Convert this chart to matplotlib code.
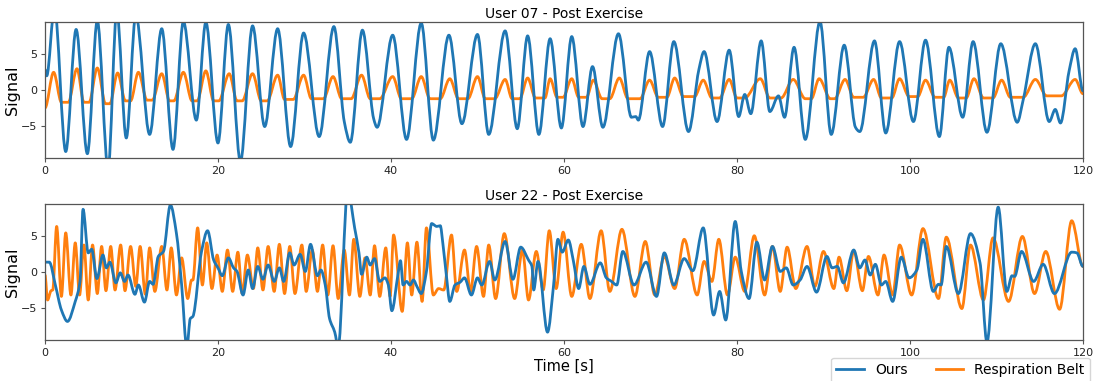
import numpy as np
import matplotlib
matplotlib.use("Agg")
import matplotlib.pyplot as plt
from matplotlib.path import Path
from matplotlib.patches import PathPatch
from matplotlib.lines import Line2D

# User 07 - turning points of each trace (time [s], signal)
u07_ours_t = [0, 0.2, 1.1, 2.4, 3.6, 4.9, 6.05, 7.3, 8.3, 9.4, 10.5, 12.1, 13.5, 14.8, 16.0, 17.5,
              18.6, 20.0, 21.2, 22.6, 24.0, 25.4, 26.9, 28.4, 29.9, 31.7, 33.4, 34.6, 35.3, 36.7,
              38.0, 38.4, 40.2, 41.8, 43.5, 44.9, 46.7, 48.2, 50.0, 51.3, 53.2, 54.6, 55.8, 57.1,
              58.4, 59.7, 60.9, 62.2, 63.3, 64.5, 66.3, 67.8, 68.3, 68.6, 69.9, 71.4, 72.7, 74.4,
              75.6, 76.2, 77.7, 79.1, 80.2, 80.9, 81.6, 82.8, 83.8, 84.8, 85.5, 86.6, 87.9, 89.6,
              90.9, 92.4, 93.7, 94.2, 95.9, 97.2, 98.8, 100.4, 101.8, 103.4, 104.5, 106.1, 107.3,
              108.9, 110.5, 112.4, 113.1, 114.5, 116.1, 116.8, 117.4, 118.4, 119.1, 120.0]
u07_ours = [2.9, 2.0, 11.5, -8.6, 8.5, -8.9, 9.7, -11.0, 11.0, -6.7, 10.5, -6.2, 8.6, -8.3, 9.6, -4.2,
            9.5, -7.4, 9.2, -10.0, 9.0, -5.1, 8.6, -7.9, 8.0, -6.5, 8.9, -4.4, -7.3, 8.4,
            -4.0, -5.2, 7.7, -6.9, 9.4, -7.0, 7.7, -4.7, 7.8, -6.2, 8.3, -5.4, 7.6, -6.2,
            7.2, -5.3, 7.5, -5.1, 3.3, -5.2, 7.9, -3.8, -3.7, -4.2, 5.4, -5.1, 6.8, -5.8,
            2.9, 5.4, -4.4, 5.6, -3.7, -0.6, -3.3, 6.9, -3.0, -0.8, -3.8, 6.0, -6.9, 9.6,
            -6.2, 6.3, -5.2, -5.8, 6.9, -6.0, 6.8, -4.4, 7.0, -6.5, 6.0, -3.8, 6.8,
            -5.9, 6.5, -4.5, -1.3, 6.5, -4.4, -2.7, -4.6, 2.7, 5.8, -0.1]

u07_belt_t = [0, 1.0, 1.9, 2.7, 3.7, 4.5, 5.1, 6.05, 7.0, 7.5, 8.4, 9.3, 9.9, 10.8, 11.8, 12.4,
              13.5, 14.4, 14.9, 16.0, 17.0, 17.6, 18.6, 19.5, 20.1, 21.3, 22.2, 22.8, 24.0, 25.0,
              25.7, 26.9, 27.7, 28.7, 29.9, 30.8, 32.2, 33.3, 34.3, 35.4, 36.6, 37.6, 38.7, 40.2,
              41.2, 42.4, 43.5, 44.5, 45.7, 46.8, 47.8, 48.9, 50.0, 50.9, 52.0, 53.2, 54.0, 54.9,
              55.8, 56.7, 57.8, 58.4, 59.2, 59.9, 60.9, 61.7, 62.6, 63.4, 64.4, 65.3, 66.4, 67.4,
              68.8, 69.9, 70.9, 71.9, 72.8, 73.8, 75.1, 76.1, 77.1, 78.0, 79.1, 80.0, 80.9, 82.7,
              83.8, 85.1, 86.5, 87.9, 88.6, 89.5, 90.8, 91.3, 92.5, 93.5, 94.6, 95.8, 96.7, 97.9,
              98.8, 99.9, 100.9, 101.8, 102.9, 103.9, 104.6, 105.6, 106.5, 107.4, 108.5, 109.6,
              110.6, 111.6, 113.1, 114.5, 115.8, 117.5, 119.1, 120.0]
u07_belt = [-2.5, 2.5, -1.7, -1.7, 3.0, -1.7, -1.7, 3.1, -1.9, -1.9, 2.4, -1.5, -1.5, 2.5, -1.4, -1.4,
            2.3, -1.5, -1.5, 2.5, -1.5, -1.5, 2.7, -1.5, -1.5, 2.3, -1.5, -1.5, 2.3, -1.5,
            -1.5, 2.1, -1.3, -1.3, 2.1, -1.2, -1.2, 1.9, -1.2, -1.2, 2.1, -1.2, -1.2, 1.9,
            -1.2, -1.2, 1.9, -1.2, -1.2, 1.6, -1.2, -1.2, 1.9, -1.2, -1.2, 1.5, -1.2, -1.2,
            1.7, -1.1, -1.1, 1.6, -1.0, -1.0, 1.6, -1.0, -1.0, 1.4, -1.2, -1.2, 1.7, -1.2,
            -1.2, 1.4, -1.0, -1.0, 1.7, -0.9, -0.9, 1.4, -1.1, -1.1, 1.5, -1.1, -1.1, 1.6,
            -1.1, -1.1, 1.5, -1.2, -1.2, 1.6, -1.2, -1.2, 1.5, -1.0, -1.0, 1.5, -1.1, -1.1,
            1.6, -0.9, -0.9, 1.4, -1.0, -1.0, 1.4, -1.1, -1.1, 1.6, -1.1, -1.1,
            1.4, -1.0, -1.0, 1.5, -0.8, -0.8, 1.5, -0.5]

# User 22 - turning points of each trace (time [s], signal)
u22_ours_t = [0, 0.5, 1.2, 1.9, 2.6, 3.5, 4.05, 4.4, 5.0, 5.4, 6.0, 6.7, 7.1, 7.5, 8.2, 8.7, 9.2,
              9.6, 10.4, 10.8, 11.5, 12.1, 12.5, 13.1, 13.7, 14.5, 15.2, 15.8, 16.4, 16.8, 17.1,
              18.1, 18.8, 19.5, 20.0, 20.5, 21.2, 21.8, 22.2, 22.9, 23.5, 24.0, 24.6, 25.2, 25.8,
              26.5, 27.1, 27.6, 28.3, 28.8, 29.5, 30.1, 30.7, 31.5, 31.9, 32.4, 32.9, 33.5, 33.9,
              35.0, 35.8, 36.3, 36.6, 37.2, 37.6, 38.1, 38.7, 39.3, 39.7, 40.1, 40.8, 41.1, 41.4,
              41.8, 42.2, 42.6, 43.0, 43.5, 44.1, 44.7, 45.3, 45.7, 46.0, 46.4, 46.8, 47.4, 48.0,
              48.5, 49.3, 50.0, 50.5, 51.4, 52.0, 53.2, 54.1, 55.0, 55.9, 56.3, 56.5, 57.0, 58.1,
              58.8, 59.3, 59.8, 60.5, 61.1, 61.7, 62.3, 63.0, 64.2, 64.9, 65.5, 66.1, 66.8, 68.1,
              69.5, 70.7, 71.6, 72.7, 73.9, 74.9, 76.1, 77.3, 78.0, 78.7, 79.8, 80.5, 81.4, 82.3,
              83.2, 84.1, 85.0, 85.7, 86.5, 87.3, 88.1, 89.2, 90.4, 91.0, 91.6, 92.3, 93.5, 94.2,
              94.8, 95.4, 96.0, 96.7, 97.2, 98.0, 99.0, 99.9, 100.8, 101.5, 102.7, 103.3, 103.6,
              104.2, 105.6, 107.0, 108.1, 108.9, 110.2, 111.2, 111.8, 112.1, 112.9, 114.3, 115.4,
              116.7, 118.7, 119.3, 120.0]
u22_ours = [1.4, 1.4, -1.8, -5.3, -6.9, -4.1, -1.3, 8.8, 2.7, 3.2, -0.9, 2.4, 0.6, 1.4, -1.5, -0.1, -1.3,
            -0.4, -3.1, -1.8, -4.2, -1.3, -1.7, 2.2, 2.9, 9.4, 5.4, -1.8, -10.5, -6.5, -6.2,
            2.9, 5.8, 1.7, 0.6, -0.5, 2.0, 0.6, 0.1, -3.2, 0.3, -2.3, 0.8, -1.0, 1.0,
            -1.3, 0.6, -1.3, 2.7, 1.0, 2.5, 0.1, 3.9, -0.5, 0.3, -1.8, -6.5, -8.4, -10.5,
            11.5, 6.2, 2.7, -0.3, 2.1, 1.0, 1.9, -1.3, -0.8, -1.8, -5.4, -0.4, 1.6, -1.8,
            -1.3, -1.8, -1.1, -2.0, -3.0, 0.1, 6.8, 6.4, 6.5, 4.0, -0.4, -4.1, -1.8, -1.4,
            -0.8, -3.2, -0.8, -1.8, 1.5, -1.1, 4.3, -1.0, 3.5, 1.7, 0.8, -2.5, 1.5, -8.4,
            -1.8, 4.6, 2.8, 4.5, 1.5, -2.3, 0.8, -1.7, 1.3, -0.8, -1.3, -1.8, 2.9, -1.8,
            1.4, -3.4, 2.7, -1.8, 1.9, 0.2, 6.2, -6.0, -2.7, -6.7, 7.1, 0.1, -3.7, 4.2,
            -1.1, 3.6, 0.1, 0.6, -1.8, -1.1, 0.8, -2.8, 2.2, 0.6, 0.8, -1.5, 3.1, 0.6,
            1.7, -0.4, 1.1, -1.8, -1.3, -4.1, 2.1, -0.8, 0.3, 4.6, -2.7, -1.7, -1.8,
            3.6, -3.0, 5.4, 1.3, -9.8, 9.1, -2.7, -0.5, -0.6, 2.9, -1.3, 1.1,
            -3.0, 2.8, 2.7, 0.8]

u22_belt_t = [0, 0.3, 0.7, 0.9, 1.35, 1.9, 2.4, 3.0, 3.5, 4.0, 4.5, 5.0, 5.5, 6.05, 6.55, 7.05, 7.6,
              8.1, 8.75, 9.25, 9.9, 10.5, 11.0, 11.6, 12.1, 12.7, 13.5, 14.1, 14.6, 15.2, 15.8,
              16.5, 16.95, 17.1, 17.65, 18.2, 18.7, 19.3, 19.9, 20.5, 21.1, 21.7, 22.3, 22.8,
              23.4, 24.1, 24.6, 25.2, 25.8, 26.5, 27.1, 27.7, 28.3, 28.9, 29.7, 30.2, 30.9, 31.5,
              32.1, 32.7, 33.3, 33.9, 34.6, 35.2, 35.7, 36.4, 37.0, 37.6, 38.1, 38.7, 39.4, 39.9,
              40.3, 41.3, 41.9, 42.4, 43.0, 43.6, 44.1, 44.9, 45.5, 46.1, 47.0, 47.6, 48.5, 49.2,
              49.9, 50.7, 51.3, 52.1, 53.1, 54.3, 55.2, 55.9, 56.8, 57.6, 58.3, 59.1, 59.9, 60.9,
              62.0, 63.0, 64.3, 65.3, 66.7, 68.2, 69.4, 70.5, 71.6, 72.8, 73.9, 75.4, 76.2, 77.1,
              77.9, 78.9, 79.8, 80.9, 82.0, 83.2, 84.1, 85.0, 85.8, 86.8, 88.1, 89.0, 90.0, 91.2,
              91.8, 92.7, 93.5, 94.5, 95.2, 96.3, 97.0, 98.0, 98.8, 100.2, 101.5, 103.3, 104.2,
              106.0, 107.0, 108.5, 109.6, 111.4, 113.0, 114.4, 115.7, 117.3, 118.7, 120.0]
u22_belt = [-0.4, -3.9, -2.6, -2.5, 6.4, -3.4, 5.5, -3.2, 4.1, -3.2, 3.8, -3.9, 3.8, -3.0, 3.6, -2.6, 3.6,
            -2.5, 3.8, -2.6, 3.6, -2.0, 3.6, -3.1, 3.4, -2.7, 3.6, -2.5, 3.4, -3.2, 2.0,
            -3.7, -1.1, -1.1, 6.2, -1.8, 4.1, -2.3, 2.4, -2.7, 3.1, -2.7, 2.8, -3.0,
            2.4, -2.3, 3.4, -2.5, 3.6, -2.7, 3.9, -3.0, 3.6, -3.0, 3.8, -2.7, 3.1, -2.7,
            3.8, -3.2, 3.7, -3.7, 3.1, -3.2, 4.6, -3.4, 2.0, -3.2, 3.7, -3.4, 3.4, -3.4,
            5.2, -5.5, 4.1, -3.2, 4.2, -4.1, 6.2, -3.2, -2.3, -2.5, 5.2, -2.7, 3.1, -2.7,
            3.6, -3.4, 3.8, -3.7, 5.4, -3.7, 3.1, -3.9, 2.9, -2.5, 5.8, -2.3, 5.6, -3.4,
            3.9, -3.7, 5.8, -2.7, 6.0, -3.4, 4.3, -3.2, 2.2, -2.3, 4.6, -3.2, 1.5, -1.3,
            4.6, -3.2, 2.1, -2.7, 5.1, -3.2, 3.6, -2.7, 3.5, -2.3, 3.6, -2.0, 2.9, -2.3,
            2.1, -2.6, 3.0, -2.6, 2.2, -3.2, 2.4, -3.2, 3.8, -3.2, 6.1, -3.7, 4.9,
            -5.1, 3.8, -3.9, 4.8, -4.1, 5.0, -3.0, 2.9, -5.2, 7.2, 0.8]

BLUE = "#1f77b4"
ORANGE = "#ff7f0e"
LW = 2.0


def smooth_curve(t, v):
    """Monotone cubic Bezier path through the given points."""
    t = np.asarray(t, float)
    v = np.asarray(v, float)
    h = np.diff(t)
    s = np.diff(v) / h
    m = np.zeros_like(v)
    same = s[:-1] * s[1:] > 0
    m[1:-1][same] = 2.0 / (1.0 / s[:-1][same] + 1.0 / s[1:][same])
    verts = [(t[0], v[0])]
    for i in range(len(h)):
        d = h[i] / 3.0
        verts += [(t[i] + d, v[i] + m[i] * d),
                  (t[i + 1] - d, v[i + 1] - m[i + 1] * d),
                  (t[i + 1], v[i + 1])]
    codes = [Path.MOVETO] + [Path.CURVE4] * (3 * len(h))
    return Path(verts, codes)


def draw(ax, t, v, color):
    ax.add_patch(PathPatch(smooth_curve(t, v), facecolor="none", edgecolor=color,
                           lw=LW, capstyle="round", joinstyle="round"))


fig = plt.figure(figsize=(10.97, 3.81), dpi=100)
ax1 = fig.add_axes([0.041, 0.5853, 0.9462, 0.3562])
ax2 = fig.add_axes([0.041, 0.1076, 0.9462, 0.3562])

panels = [(ax1, "User 07 - Post Exercise", u07_ours_t, u07_ours, u07_belt_t, u07_belt),
          (ax2, "User 22 - Post Exercise", u22_ours_t, u22_ours, u22_belt_t, u22_belt)]

for ax, title, ot, ov, bt, bv in panels:
    draw(ax, bt, bv, ORANGE)
    draw(ax, ot, ov, BLUE)
    ax.set_xlim(0, 120)
    ax.set_ylim(-9.5, 9.5)
    ax.set_xticks([0, 20, 40, 60, 80, 100, 120])
    ax.set_yticks([-5, 0, 5])
    ax.set_title(title, fontsize=10, pad=3)
    ax.set_ylabel("Signal", fontsize=11.5, labelpad=1)
    ax.tick_params(labelsize=8, length=3, pad=2.5, color="#555555", labelcolor="#222222")
    for sp in ax.spines.values():
        sp.set_color("#555555")
        sp.set_linewidth(0.9)

ax2.set_xlabel("Time [s]", fontsize=10.5, labelpad=1)

handles = [Line2D([], [], color=BLUE, lw=LW), Line2D([], [], color=ORANGE, lw=LW)]
ax2.legend(handles, ["Ours", "Respiration Belt"], loc="upper right", ncol=2,
           bbox_to_anchor=(1.007, -0.13), fontsize=10, frameon=True,
           borderaxespad=0, columnspacing=2.0)

fig.savefig("out.png", dpi=100)
